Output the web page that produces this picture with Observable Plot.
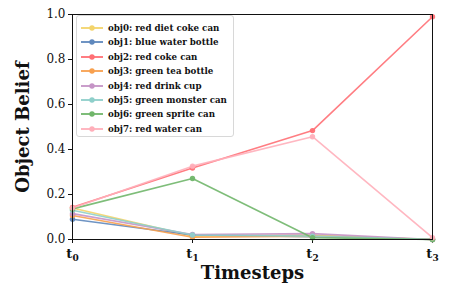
<!DOCTYPE html>
<html><head><meta charset="utf-8">
<script src="https://cdn.jsdelivr.net/npm/d3@7"></script>
<script src="https://cdn.jsdelivr.net/npm/@observablehq/plot@0.6"></script>
<style>
body{margin:0;background:#fff;}
#wrap{position:relative;width:452px;height:286px;font-family:"DejaVu Serif",serif;}
#legend{position:absolute;left:76px;top:15px;width:158px;height:122px;border:1px solid #d8d8d8;border-radius:3px;background:rgba(255,255,255,0.85);box-sizing:border-box;}
.item{position:absolute;left:0;height:14px;width:100%;font-weight:bold;font-size:8.7px;color:#111;}
.item svg{position:absolute;left:3px;top:0;}
.item span{position:absolute;left:31px;top:0px;line-height:14px;white-space:nowrap;}
</style></head>
<body><div id="wrap"></div>
<script>
const steps = [0, 1, 2, 3];
const stepLabels = ["0", "1", "2", "3"];
const names = ["obj0: red diet coke can","obj1: blue water bottle","obj2: red coke can","obj3: green tea bottle","obj4: red drink cup","obj5: green monster can","obj6: green sprite can","obj7: red water can"];
const colors = ["#f3d46b","#5f88bd","#ff6f74","#f8a04e","#c594c6","#8ecfca","#70b66a","#ffafba"];
const obj0 = [0.14, 0.015, 0.02, 0.0];
const obj1 = [0.09, 0.02, 0.012, 0.0];
const obj2 = [0.143, 0.318, 0.484, 0.99];
const obj3 = [0.107, 0.01, 0.015, 0.0];
const obj4 = [0.115, 0.022, 0.026, 0.0];
const obj5 = [0.13, 0.02, 0.015, 0.0];
const obj6 = [0.136, 0.271, 0.008, 0.0];
const obj7 = [0.14, 0.326, 0.457, 0.008];
const series = [obj0,obj1,obj2,obj3,obj4,obj5,obj6,obj7];
const yTicks = [0,0.2,0.4,0.6,0.8,1.0];

const data = [];
series.forEach((s,i)=>s.forEach((v,j)=>data.push({obj:names[i], t:steps[j], v})));

const chart = Plot.plot({
  width:452, height:286,
  marginLeft:72, marginRight:20, marginTop:14, marginBottom:47,
  style:{fontFamily:"DejaVu Serif, serif", fontSize:"12px", color:"#111", background:"#fff"},
  x:{domain:[0,3], ticks:steps, tickFormat:(d,i)=>"t"+stepLabels[i], label:"Timesteps", labelAnchor:"center", labelOffset:39, tickSize:4, tickPadding:5},
  y:{domain:[0,1], ticks:yTicks, tickFormat:d3.format(".1f"), label:"Object Belief", labelAnchor:"center", labelOffset:56, tickSize:4, tickPadding:3},
  color:{domain:names, range:colors},
  marks:[
    Plot.line(data,{x:"t", y:"v", z:"obj", stroke:"obj", strokeWidth:1.6, strokeOpacity:0.9}),
    Plot.dot(data,{x:"t", y:"v", fill:"obj", r:2.7, fillOpacity:0.95}),
    Plot.frame({stroke:"#111", strokeWidth:1})
  ]
});
const wrap = document.getElementById("wrap");
wrap.appendChild(chart);
const svg = d3.select(chart);
svg.selectAll("[aria-label='x-axis tick label'] text").each(function(d,i){
  const t=d3.select(this); t.text(null).attr("font-weight","bold").attr("font-size","13px");
  t.append("tspan").text("t");
  t.append("tspan").attr("font-size","9px").attr("dy","3").text(stepLabels[i]);
});
svg.selectAll("[aria-label='x-axis label'] text, [aria-label='y-axis label'] text").attr("font-size","18px").attr("font-weight","bold");
svg.selectAll("[aria-label='x-axis label'] text").text("Timesteps");
svg.selectAll("[aria-label='y-axis label'] text").text("Object Belief");
svg.selectAll("[aria-label='x-axis tick'], [aria-label='y-axis tick']").attr("stroke","#111");

const leg = document.createElement("div"); leg.id="legend"; wrap.appendChild(leg);
names.forEach((n,i)=>{
  const it=document.createElement("div"); it.className="item"; it.style.top=(5+i*14.4)+"px";
  it.innerHTML=`<svg width="24" height="14"><line x1="1" x2="23" y1="7" y2="7" stroke="${colors[i]}" stroke-width="1.8"/><circle cx="12" cy="7" r="2.7" fill="${colors[i]}"/></svg><span>${n}</span>`;
  leg.appendChild(it);
});
</script></body></html>
